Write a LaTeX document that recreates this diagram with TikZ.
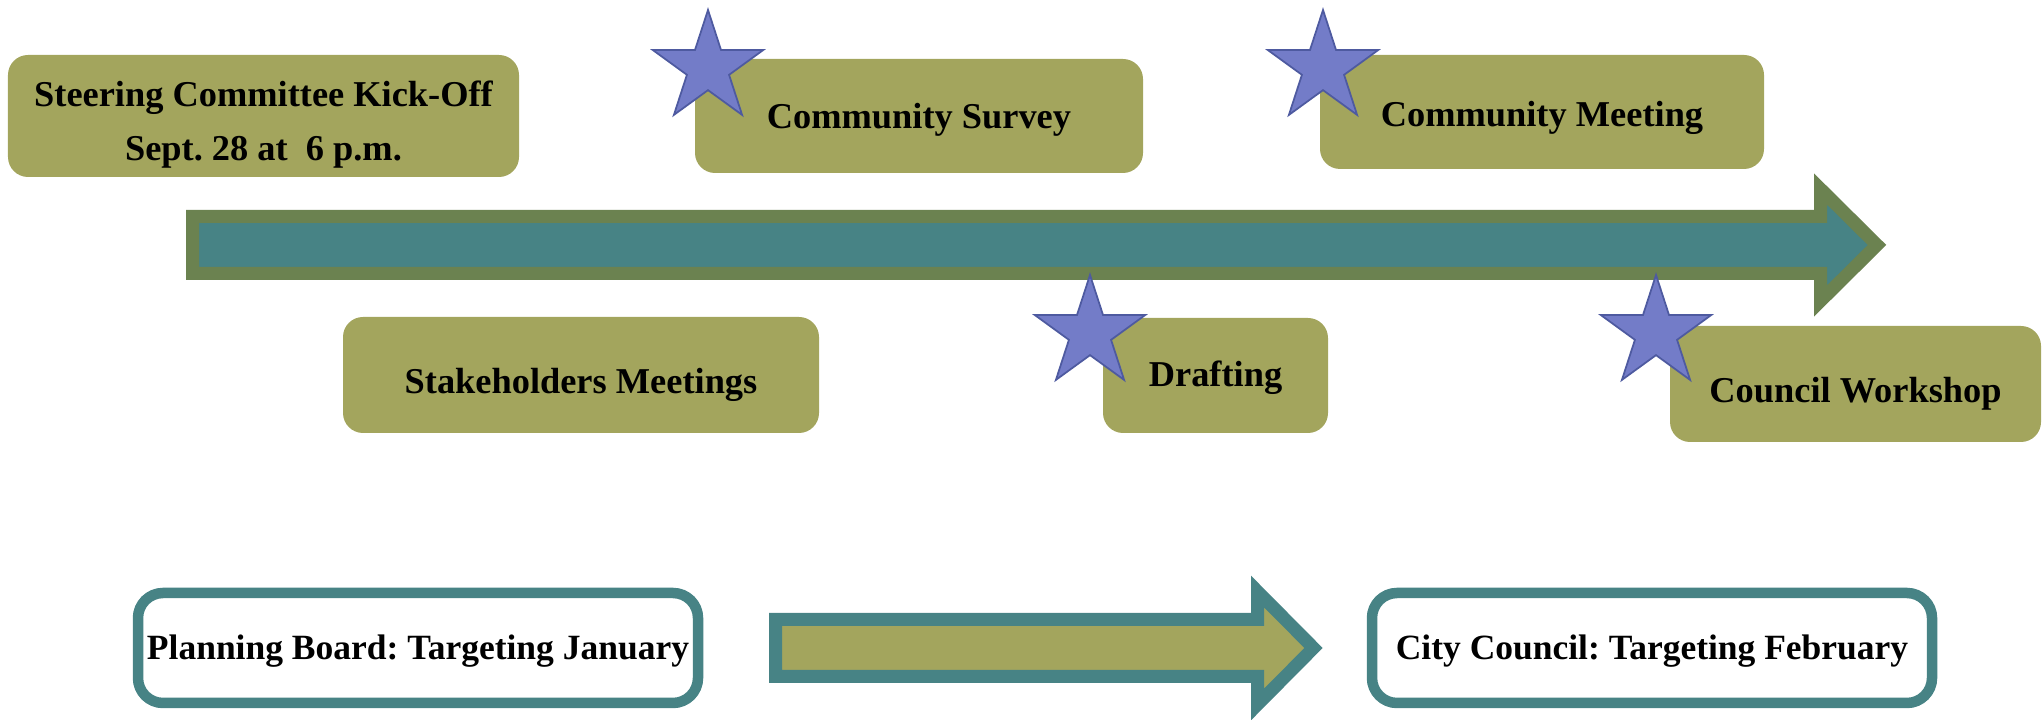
\documentclass[tikz,border=0pt]{standalone}
\usepackage{fontspec}
\setmainfont{Liberation Serif}
\frenchspacing
\usetikzlibrary{shapes.geometric}
\definecolor{boxolive}{HTML}{A3A55D}
\definecolor{tealgrey}{HTML}{478385}
\definecolor{mossgreen}{HTML}{6B8250}
\definecolor{starblue}{HTML}{737CC8}
\definecolor{stardark}{HTML}{4E5AA0}
\tikzset{
  stagebox/.style   = {rounded corners=2mm,fill=boxolive,align=center,inner sep=0pt,
                       text depth=2.25pt,font=\bfseries\fontsize{10.35}{15.2}\selectfont},
  goalbox/.style    = {rounded corners=2.5mm,draw=tealgrey,line width=1.05mm,fill=white,
                       inner sep=0pt,minimum width=5.6cm,minimum height=1.1cm,
                       text height=8.5pt,text depth=2.2pt,
                       font=\bfseries\fontsize{10.1}{12}\selectfont},
  milestar/.style   = {star,star points=5,star point ratio=2.618,minimum size=1.16cm,
                       inner sep=0pt,fill=starblue,draw=stardark,line width=0.5pt},
  timearrow/.style  = {fill=tealgrey,draw=mossgreen,line width=1.3mm},
  steparrow/.style  = {fill=boxolive,draw=tealgrey,line width=1.3mm}
}

\begin{document}
\begin{tikzpicture}
  \useasboundingbox (0,0) rectangle (20.44,7.2);

  % timeline
  \draw[timearrow] (1.925,5.035) -- (18.205,5.035) -- (18.205,5.31) -- (18.77,4.75)
        -- (18.205,4.19) -- (18.205,4.465) -- (1.925,4.465) -- cycle;

  % stages above and below the line
  \node[stagebox,minimum width=5.11cm,minimum height=1.22cm,text height=27.4pt]
        (kickoff) at (2.635,6.04) {Steering Committee Kick-Off\\Sept. 28 at\ \ 6 p.m.};
  \node[stagebox,minimum width=4.48cm,minimum height=1.14cm,text height=9.6pt]
        (survey) at (9.19,6.04) {Community Survey};
  \node[stagebox,minimum width=4.44cm,minimum height=1.14cm,text height=10.5pt]
        (meeting) at (15.42,6.08) {Community Meeting};
  \node[stagebox,minimum width=4.76cm,minimum height=1.16cm,text height=12.7pt]
        (stakeholders) at (5.81,3.45) {Stakeholders Meetings};
  \node[stagebox,minimum width=2.25cm,minimum height=1.15cm,text height=8.5pt]
        (drafting) at (12.155,3.445) {Drafting};
  \node[stagebox,minimum width=3.71cm,minimum height=1.16cm,text height=12.7pt]
        (workshop) at (18.555,3.36) {Council Workshop};

  % public input events
  \node[milestar] (star1) at (7.08,6.52) {};
  \node[milestar] (star2) at (13.23,6.52) {};
  \node[milestar] (star3) at (10.90,3.87) {};
  \node[milestar] (star4) at (16.56,3.87) {};

  % adoption
  \node[goalbox] (board) at (4.18,0.72) {Planning Board: Targeting January};
  \node[goalbox] (council) at (16.52,0.72) {City Council: Targeting February};
  \draw[steparrow] (7.755,1.005) -- (12.575,1.005) -- (12.575,1.285) -- (13.135,0.72)
        -- (12.575,0.155) -- (12.575,0.435) -- (7.755,0.435) -- cycle;
\end{tikzpicture}
\end{document}
